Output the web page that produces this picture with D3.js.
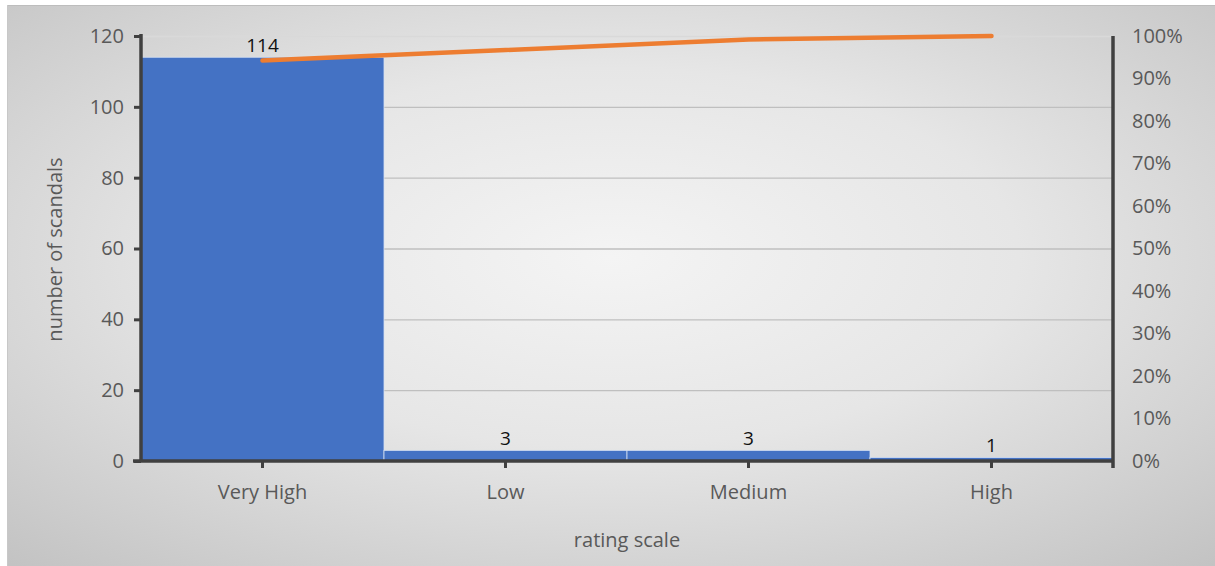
<!DOCTYPE html>
<html>
<head>
<meta charset="utf-8">
<script src="https://cdn.jsdelivr.net/npm/d3@7"></script>
<style>
  html, body { margin: 0; padding: 0; background: #fff; }
  svg { display: block; }
  text { font-family: "Open Sans", "Noto Sans", sans-serif; }
</style>
</head>
<body>
<svg id="chart" width="1215" height="566"></svg>
<script>
// Scandal counts by rating, sorted descending (Pareto order)
const categories = ["Very High", "Low", "Medium", "High"];
const counts = [114, 3, 3, 1];
const countTicks = [0, 20, 40, 60, 80, 100, 120];
const pctTicks = [0, 0.1, 0.2, 0.3, 0.4, 0.5, 0.6, 0.7, 0.8, 0.9, 1.0];

const total = d3.sum(counts);
const cumulative = Array.from(d3.cumsum(counts), v => v / total);

const svg = d3.select("#chart");
const W = 1215, H = 566;

// Chart background: soft radial gray gradient
const defs = svg.append("defs");
const grad = defs.append("radialGradient").attr("id", "bg")
  .attr("cx", "50%").attr("cy", "45%").attr("r", "75%");
grad.append("stop").attr("offset", "0%").attr("stop-color", "#f4f4f4");
grad.append("stop").attr("offset", "45%").attr("stop-color", "#e6e6e6");
grad.append("stop").attr("offset", "100%").attr("stop-color", "#c2c2c2");

svg.append("rect").attr("x", 7).attr("y", 5).attr("width", W - 7).attr("height", H - 5)
  .attr("fill", "url(#bg)");
svg.append("line").attr("x1", 7).attr("x2", W).attr("y1", 5.5).attr("y2", 5.5)
  .attr("stroke", "#bdbdbd").attr("stroke-width", 1);
svg.append("line").attr("x1", 7.5).attr("x2", 7.5).attr("y1", 5).attr("y2", H)
  .attr("stroke", "#c8c8c8").attr("stroke-width", 1);

const plotLeft = 141, plotRight = 1113, plotTop = 36, plotBottom = 461;

const x = d3.scaleBand().domain(categories).range([plotLeft, plotRight]).padding(0);
const y = d3.scaleLinear().domain([0, 120]).range([plotBottom, plotTop]);
const y2 = d3.scaleLinear().domain([0, 1]).range([plotBottom, plotTop]);

// Horizontal gridlines
svg.append("g")
  .selectAll("line")
  .data(countTicks.filter(d => d > 0))
  .join("line")
  .attr("x1", plotLeft).attr("x2", plotRight)
  .attr("y1", d => y(d) + 0.5).attr("y2", d => y(d) + 0.5)
  .attr("stroke", d => d === 120 ? "#d9d9d9" : "#bfbfbf")
  .attr("stroke-width", 1.3);

// Bars
svg.append("g")
  .selectAll("rect")
  .data(categories)
  .join("rect")
  .attr("x", d => x(d))
  .attr("width", x.bandwidth())
  .attr("y", (d, i) => y(counts[i]))
  .attr("height", (d, i) => plotBottom - y(counts[i]))
  .attr("fill", "#4472c4")
  .attr("stroke", "#d6e0f2")
  .attr("stroke-width", 0.8);

// Left axis
const yAxis = d3.axisLeft(y).tickValues(countTicks).tickSize(7).tickPadding(10).tickFormat(d3.format("d"));
const gy = svg.append("g").attr("transform", `translate(${plotLeft},0)`).call(yAxis);
gy.select(".domain").attr("stroke", "#404040").attr("stroke-width", 3.5)
  .attr("d", `M0,${plotTop - 2}V${plotBottom + 1}`);
gy.selectAll(".tick line").attr("stroke", "#404040").attr("stroke-width", 3);
gy.selectAll(".tick text").attr("fill", "#595959").style("font-size", "20px");

// Right axis (percent)
const y2Axis = d3.axisRight(y2).tickValues(pctTicks).tickSize(0).tickPadding(19).tickFormat(d3.format(".0%"));
const gy2 = svg.append("g").attr("transform", `translate(${plotRight},0)`).call(y2Axis);
gy2.select(".domain").attr("stroke", "#404040").attr("stroke-width", 3.5)
  .attr("d", `M0,${plotTop}V${plotBottom + 7}`);
gy2.selectAll(".tick text").attr("fill", "#595959").style("font-size", "20px");

// Bottom axis
const xAxis = d3.axisBottom(x).tickSize(7).tickPadding(17);
const gx = svg.append("g").attr("transform", `translate(0,${plotBottom})`).call(xAxis);
gx.select(".domain").attr("stroke", "#404040").attr("stroke-width", 3.5)
  .attr("d", `M${plotLeft - 8},0H${plotRight}`);
gx.selectAll(".tick line").attr("stroke", "#404040").attr("stroke-width", 3);
gx.selectAll(".tick text").attr("fill", "#595959").style("font-size", "20px");

// Cumulative percentage line
const line = d3.line()
  .x((d, i) => x(categories[i]) + x.bandwidth() / 2)
  .y(d => y2(d));
svg.append("path")
  .datum(cumulative)
  .attr("d", line)
  .attr("fill", "none")
  .attr("stroke", "#ed7d31")
  .attr("stroke-width", 4.5)
  .attr("stroke-linecap", "round")
  .attr("stroke-linejoin", "round");

// Value labels
svg.append("g")
  .selectAll("text")
  .data(categories)
  .join("text")
  .attr("x", d => x(d) + x.bandwidth() / 2)
  .attr("y", (d, i) => y(counts[i]) - 5)
  .attr("text-anchor", "middle")
  .attr("fill", "#111")
  .style("font-size", "19px")
  .text((d, i) => counts[i]);

// Axis titles
svg.append("text")
  .attr("transform", `translate(62,${(plotTop + plotBottom) / 2 + 1}) rotate(-90)`)
  .attr("text-anchor", "middle")
  .attr("fill", "#595959")
  .style("font-size", "20px")
  .text("number of scandals");

svg.append("text")
  .attr("x", (plotLeft + plotRight) / 2)
  .attr("y", 547)
  .attr("text-anchor", "middle")
  .attr("fill", "#595959")
  .style("font-size", "20px")
  .text("rating scale");
</script>
</body>
</html>
